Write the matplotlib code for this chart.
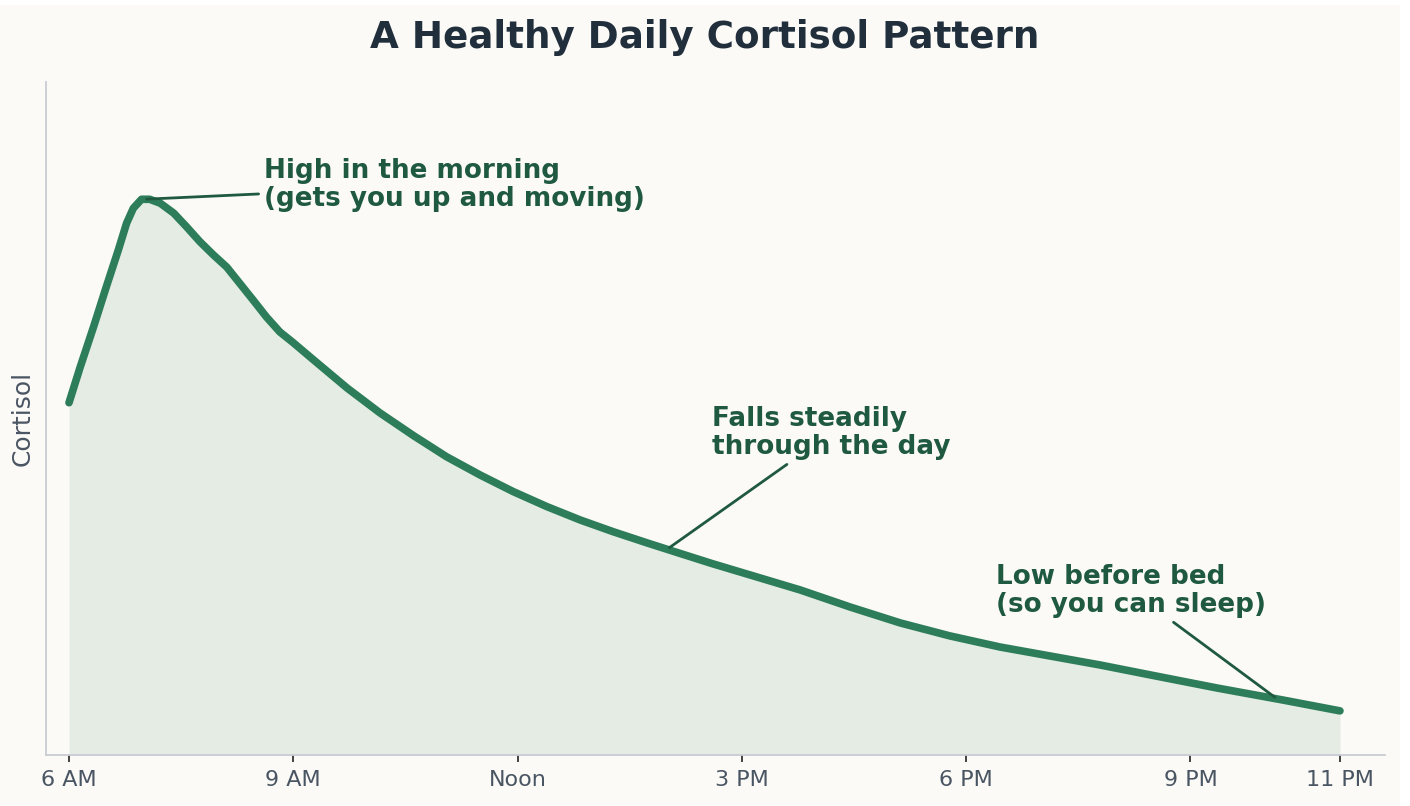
import matplotlib
matplotlib.use("Agg")
import matplotlib.pyplot as plt
import numpy as np
from matplotlib.patches import Rectangle

# hour of day (6 = 6 AM, 23 = 11 PM) and relative cortisol level
hours = [6.00, 6.15, 6.33, 6.50, 6.66, 6.77, 6.86, 6.97, 7.08, 7.22, 7.40, 7.57, 7.75,
         7.93, 8.11, 8.29, 8.47, 8.64, 8.82, 9.00, 9.27, 9.72, 10.16, 10.61, 11.05,
         11.50, 11.94, 12.39, 12.84, 13.28, 13.73, 14.17, 14.60, 15.11, 15.78, 16.45,
         17.12, 17.78, 18.45, 19.12, 19.79, 20.46, 21.36, 22.24, 23.00]
cortisol = [11.74, 12.93, 14.28, 15.61, 16.83, 17.72, 18.22, 18.52, 18.52, 18.39, 18.06,
            17.61, 17.11, 16.67, 16.26, 15.70, 15.14, 14.60, 14.10, 13.74, 13.17, 12.23,
            11.40, 10.64, 9.94, 9.33, 8.78, 8.28, 7.83, 7.44, 7.07, 6.72, 6.38, 6.00,
            5.50, 4.93, 4.40, 3.97, 3.60, 3.30, 3.00, 2.67, 2.23, 1.83, 1.47]

tick_hours = [6, 9, 12, 15, 18, 21, 23]
tick_labels = ["6 AM", "9 AM", "Noon", "3 PM", "6 PM", "9 PM", "11 PM"]

bg = "#FBFAF6"
line_c = "#2E7D5A"
note_c = "#1F5A40"

fig = plt.figure(figsize=(14.1, 8.06), dpi=100, facecolor="white")
fig.patches.append(Rectangle((0, 0), 1400 / 1410, 801 / 806, transform=fig.transFigure,
                             facecolor=bg, edgecolor="none", zorder=-10))
ax = fig.add_axes([0.0326, 0.0633, 0.9497, 0.835])
ax.set_facecolor(bg)

ax.fill_between(hours, cortisol, 0, color=line_c, alpha=0.11, linewidth=0)
ax.plot(hours, cortisol, color=line_c, linewidth=5.5, solid_capstyle="round",
        solid_joinstyle="round")

ax.set_xlim(5.692, 23.603)
ax.set_ylim(0, 22.43)
ax.set_xticks(tick_hours)
ax.set_xticklabels(tick_labels)
ax.tick_params(axis="x", labelsize=16, labelcolor="#4A5563", color="#222222",
               length=5, width=1.2, pad=6)
ax.set_yticks([])
ax.set_ylabel("Cortisol", fontsize=18, color="#4A5563", labelpad=8)

for side in ["top", "right"]:
    ax.spines[side].set_visible(False)
for side in ["left", "bottom"]:
    ax.spines[side].set_color("#C9CCD4")
    ax.spines[side].set_linewidth(1.3)

fig.suptitle("A Healthy Daily Cortisol Pattern", fontsize=26.8, fontweight="bold",
             color="#212F3D", y=0.976)

arrow = dict(arrowstyle="-", color=note_c, linewidth=2)
note_style = dict(ha="left", va="center", fontsize=18.9, fontweight="bold",
                  color=note_c, linespacing=1.1, arrowprops=arrow)
peak_i = int(np.argmax(cortisol))
ax.annotate("High in the morning\n(gets you up and moving)",
            xy=(7.0, cortisol[peak_i]), xytext=(8.61, 19.0), **note_style)
ax.annotate("Falls steadily\nthrough the day",
            xy=(14.0, np.interp(14.0, hours, cortisol)), xytext=(14.6, 10.73),
            **note_style)
ax.annotate("Low before bed\n(so you can sleep)",
            xy=(22.16, np.interp(22.16, hours, cortisol)), xytext=(18.4, 5.47),
            **note_style)

fig.savefig("out.png", dpi=100, facecolor=fig.get_facecolor())
